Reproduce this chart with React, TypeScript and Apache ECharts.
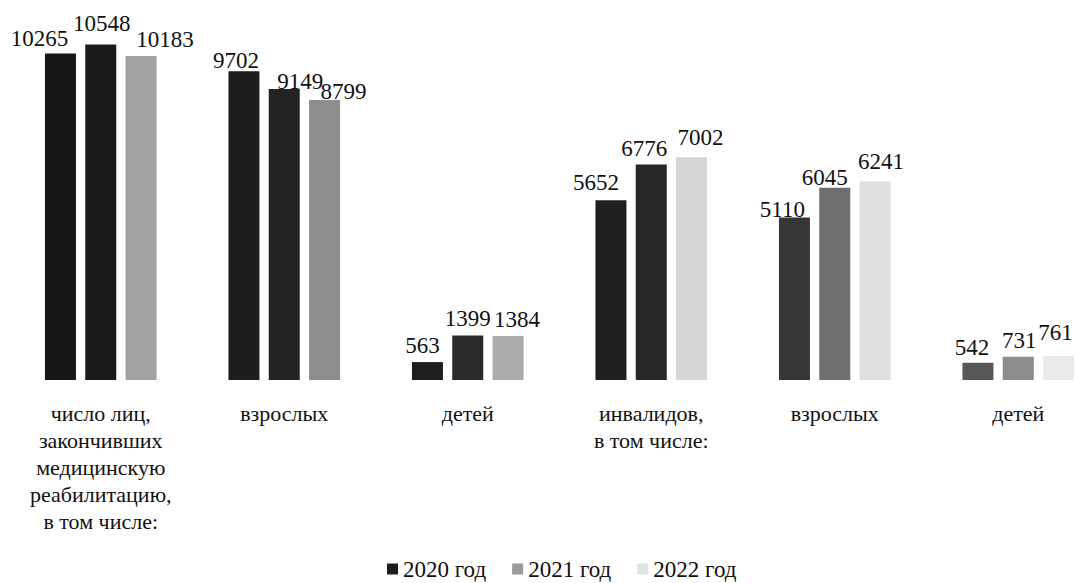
import React, { useEffect, useRef } from "react";
import * as echarts from "echarts";

const categories = [
  "число лиц,\nзакончивших\nмедицинскую\nреабилитацию,\nв том числе:",
  "взрослых",
  "детей",
  "инвалидов,\nв том числе:",
  "взрослых",
  "детей",
];
const seriesNames = ["2020 год", "2021 год", "2022 год"];
const values2020 = [10265, 9702, 563, 5652, 5110, 542];
const values2021 = [10548, 9149, 1399, 6776, 6045, 731];
const values2022 = [10183, 8799, 1384, 7002, 6241, 761];

// styling (scan-like gray levels and label nudges)
const legendColors = ["#1c1c1c", "#9a9a9a", "#e2e2e2"];
const barColors = [
  ["#161616", "#1d1d1d", "#1e1e1e", "#1f1f1f", "#363636", "#585858"],
  ["#1a1a1a", "#232323", "#2a2a2a", "#262626", "#6e6e6e", "#8c8c8c"],
  ["#a2a2a2", "#8e8e8e", "#ababab", "#d6d6d6", "#e0e0e0", "#eaeaea"],
];
const labelOffsets = [
  [[-21, 2], [-8, 6], [-5, 0], [-15, -1], [-12, 9], [-6, 1]],
  [[1, -4], [16, 9], [0, 0], [-7, 1], [-10, 6], [1, 0]],
  [[24, 0], [19, 8], [9, 0], [9, -3], [6, -3], [-3, -7]],
];

const FONT = "Liberation Serif";

export default function App() {
  const ref = useRef<HTMLDivElement>(null);
  useEffect(() => {
    if (!ref.current) return;
    const chart = echarts.init(ref.current, undefined, { renderer: "svg" });
    const allValues = [values2020, values2021, values2022];
    chart.setOption({
      animation: false,
      backgroundColor: "#ffffff",
      textStyle: { fontFamily: FONT, color: "#111" },
      grid: {
        left: 9,
        width: 1101,
        top: 30,
        height: 350,
        containLabel: false,
        outerBoundsMode: "none",
      },
      legend: {
        data: seriesNames,
        top: 552,
        left: 382,
        itemWidth: 11,
        itemHeight: 11,
        itemGap: 26,
        icon: "rect",
        textStyle: { fontFamily: FONT, fontSize: 23, lineHeight: 24, color: "#111" },
      },
      xAxis: {
        type: "category",
        data: categories,
        axisLine: { show: false },
        axisTick: { show: false },
        axisLabel: {
          interval: 0,
          margin: 20,
          fontFamily: FONT,
          fontSize: 22,
          lineHeight: 27,
          color: "#111",
          align: "center",
        },
      },
      yAxis: { type: "value", min: 0, max: 11000, show: false },
      series: allValues.map((vals, si) => ({
        name: seriesNames[si],
        type: "bar",
        barWidth: 31,
        barGap: "30%",
        itemStyle: { color: legendColors[si] },
        label: {
          show: true,
          position: "top",
          distance: 5,
          fontFamily: FONT,
          fontSize: 23,
          color: "#111",
        },
        data: vals.map((v, i) => ({
          value: v,
          itemStyle: { color: barColors[si][i] },
          label: { offset: labelOffsets[si][i] },
        })),
      })),
    });
    return () => chart.dispose();
  }, []);
  return (
    <div
      ref={ref}
      style={{ position: "fixed", left: 0, top: 0, width: 1076, height: 583 }}
    />
  );
}
